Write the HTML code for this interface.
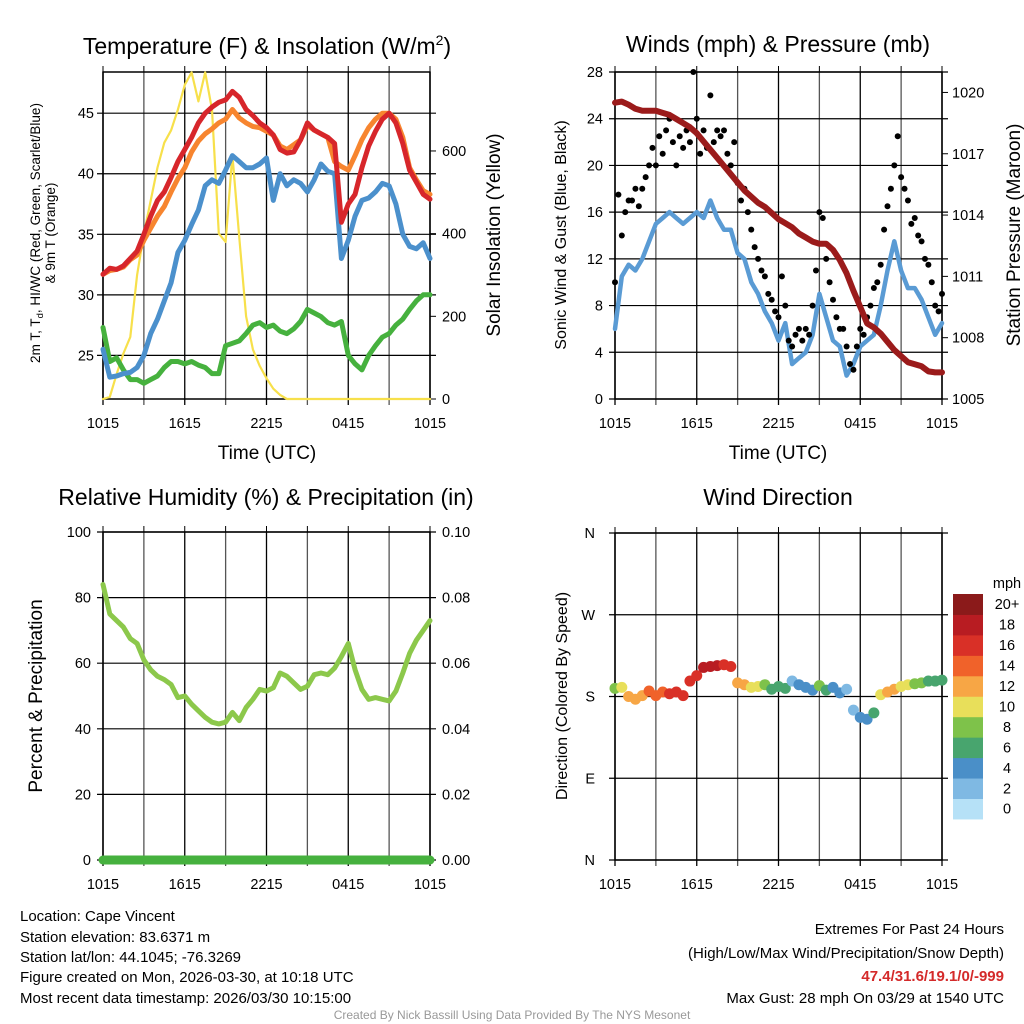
<!DOCTYPE html>
<html><head><meta charset="utf-8"><style>
body{margin:0;background:#fff;}
svg{display:block;font-family:"Liberation Sans",Arial,sans-serif;}
</style></head><body>
<svg id="s" width="1024" height="1024" viewBox="0 0 1024 1024" xmlns="http://www.w3.org/2000/svg">
<text x="267" y="54" font-size="23" text-anchor="middle">Temperature (F) &amp; Insolation (W/m<tspan font-size="14" dy="-9">2</tspan><tspan dy="9">)</tspan></text>
<text x="778" y="52" font-size="23" text-anchor="middle">Winds (mph) &amp; Pressure (mb)</text>
<text x="266" y="505" font-size="23" text-anchor="middle">Relative Humidity (%) &amp; Precipitation (in)</text>
<text x="778" y="505" font-size="23" text-anchor="middle">Wind Direction</text>
<text x="267" y="459" font-size="19" text-anchor="middle">Time (UTC)</text>
<text x="778" y="459" font-size="19" text-anchor="middle">Time (UTC)</text>
<text transform="translate(40,233) rotate(-90)" font-size="13.5" text-anchor="middle">2m T, T<tspan font-size="9.5" dy="3">d</tspan><tspan dy="-3">, HI/WC (Red, Green, Scarlet/Blue)</tspan></text>
<text transform="translate(55,233) rotate(-90)" font-size="13.5" text-anchor="middle">&amp; 9m T (Orange)</text>
<text transform="translate(500,235) rotate(-90)" font-size="19" text-anchor="middle">Solar Insolation (Yellow)</text>
<text transform="translate(566,235) rotate(-90)" font-size="16" text-anchor="middle">Sonic Wind &amp; Gust (Blue, Black)</text>
<text transform="translate(1020,235) rotate(-90)" font-size="19" text-anchor="middle">Station Pressure (Maroon)</text>
<text transform="translate(42,696) rotate(-90)" font-size="19" text-anchor="middle">Percent &amp; Precipitation</text>
<text transform="translate(567,696) rotate(-90)" font-size="16" text-anchor="middle">Direction (Colored By Speed)</text>
<g font-size="15">
<text x="20" y="921">Location: Cape Vincent</text>
<text x="20" y="942">Station elevation: 83.6371 m</text>
<text x="20" y="962">Station lat/lon: 44.1045; -76.3269</text>
<text x="20" y="982">Figure created on Mon, 2026-03-30, at 10:18 UTC</text>
<text x="20" y="1003">Most recent data timestamp: 2026/03/30 10:15:00</text>
</g>
<g font-size="15" text-anchor="end">
<text x="1004" y="934">Extremes For Past 24 Hours</text>
<text x="1004" y="958">(High/Low/Max Wind/Precipitation/Snow Depth)</text>
<text x="1004" y="981" fill="#d42a2a" font-weight="bold">47.4/31.6/19.1/0/-999</text>
<text x="1004" y="1003">Max Gust: 28 mph On 03/29 at 1540 UTC</text>
</g>
<text x="512" y="1019" font-size="12" fill="#999" text-anchor="middle">Created By Nick Bassill Using Data Provided By The NYS Mesonet</text>
<g id="g"></g>
</svg>
<script>
// ---- data (30-min steps from 1015 UTC to 1015 UTC) ----
const timeLabels=["1015","1615","2215","0415","1015"];
const temp2m=[31.7,32.2,32.1,32.4,33,33.6,35,36.5,37.8,38.5,39.7,41,42,43,44.2,45,45.5,45.9,46.1,46.8,46.3,45.3,44.8,44.2,43.8,43.2,42,41.7,41.8,42.8,44.2,43.6,43.3,43,42.5,36,37.5,38.3,40.5,42.3,43.5,44.5,45,44.2,42.5,40.3,39.3,38.3,37.9];
const temp9m=[31.7,32,32.1,32.3,32.9,33.3,34.5,35.5,36.5,37.3,38.5,39.6,40.5,41.8,42.7,43.3,43.7,44.2,44.5,45.3,44.6,44.2,43.9,43.8,43.5,43.2,42.3,42,42.4,42.8,44,43.6,43.3,43,41,40.6,40.3,41.5,42.8,43.8,44.5,45,45,44.5,43,40.5,39.5,38.6,38.3];
const windChill=[25.5,23.2,23.3,23.5,23.6,24,25,26.8,28,29.5,31,33.5,34.5,35.8,37,39,39.5,39.2,40.3,41.5,41,40.5,40.5,40.8,41.3,37.8,40,39,39.5,39.2,38.5,39.5,40.8,40.2,40,33,34.5,36.5,37.8,38,38.5,39.2,39,37.5,35,34,33.8,34.3,33];
const dewpoint=[27.3,24.5,24.8,23.8,23,23,22.7,23,23.3,24,24.5,24.5,24.3,24.5,24.2,24,23.5,23.5,25.8,26,26.2,26.8,27.5,27.7,27.3,27.5,27,26.8,27.2,27.8,28.8,28.5,28.2,27.7,27.5,27.8,25,24.3,23.8,25,25.8,26.5,26.8,27.5,28,28.8,29.5,30,30];
const solar=[0,5,60,110,150,300,400,480,560,620,650,700,760,790,720,790,700,400,380,590,390,200,120,80,50,25,10,0,0,0,0,0,0,0,0,0,0,0,0,0,0,0,0,0,0,0,0,0,0];
const tempTicks=[25,30,35,40,45];
const solarTicks=[0,200,400,600];
const wind=[6,10.5,11.5,11,12,13.5,15,15.5,16,15.5,15,15.5,16,15.5,17,15.5,14.5,14.5,12.5,12,10,9,7.5,6.5,5,6.5,3,3.5,4,5.5,9,7,5,4.5,2,3,4.5,5,5.5,8,11,13.5,11,9.5,9.5,8.5,7,5.5,6.5];
// gusts every 15 min
const gust=[10,17.5,14,16,17,17,18,16.5,18,19,20,21.5,20,22.5,21,23,24,22,20,22.5,21.5,23,22,28,24,21,23,21.5,26,22,23,22.5,23,21,20,22,18.5,17,18,16,14.5,13,12,11,10.5,9,8.5,7.5,7,10.5,8,5,4.5,5.5,6,5,6,5.5,8,11,16,15.5,12,10,8.5,7,6,6,4.5,3,2.5,4.5,6,5.5,7,8,9.5,10,11.5,14.5,16.5,18,20,22.5,19,18,17,15,15.5,14,13.5,12,11.5,10,8,7.5,9];
const pressure=[1019.5,1019.55,1019.4,1019.2,1019.1,1019.1,1019.1,1019.0,1018.9,1018.7,1018.5,1018.3,1018.0,1017.6,1017.2,1016.8,1016.4,1016.0,1015.6,1015.2,1014.9,1014.6,1014.4,1014.1,1013.8,1013.6,1013.4,1013.1,1012.9,1012.7,1012.6,1012.6,1012.3,1011.8,1011.15,1010.3,1009.5,1008.7,1008.5,1008.2,1007.8,1007.4,1007.1,1006.8,1006.7,1006.6,1006.35,1006.3,1006.3];
const windTicks=[0,4,8,12,16,20,24,28];
const pressTicks=[1005,1008,1011,1014,1017,1020];
const rh=[84,75,73,71,67.5,66,61,58,56,55,53.5,49.5,50,47.5,45.5,43.5,42,41.5,42,45,42.5,46.5,49,52,51.5,52.5,57,56,54,52,53,56.5,57,56.5,58.5,62,66,58,52,49,49.5,49,48.5,51.5,57,63,67,70,73];
const precip=new Array(49).fill(0);
const rhTicks=[0,20,40,60,80,100];
const precipTicks=["0.00","0.02","0.04","0.06","0.08","0.10"];
const direction=[189,190,180,177,181,186,181,185,183,185,181,197,203,212,213,214,215,213,195,193,190,191,193,188,191,189,197,193,190,187,192,187,190,184,188,165,157,155,162,182,185,188,191,193,194,195,197,197,198];
const dirSpeed=[9,10,12,12,13,14,15,15,16,16,16,17,17,18,19,18,17,16,13,12,11,10,9,7,6,7,3,4,4,5,9,6,5,4,2,3,4,5,7,10,12,13,11,10,9,8,7,6,6];
const dirLabels=["N","E","S","W","N"];
const speedBins=["0","2","4","6","8","10","12","14","16","18","20+"];
const binColors=["#b6e1f7","#7fb9e3","#4a8fc8","#48a56e","#7ec24a","#e8df5a","#f7a645","#f0622a","#d93027","#b81c22","#8b1a1a"];

const NS="http://www.w3.org/2000/svg";
const G=document.getElementById('g');
const FS=14.5;
function mk(tag,attrs,parent){const e=document.createElementNS(NS,tag);for(const k in attrs)e.setAttribute(k,attrs[k]);(parent||G).appendChild(e);return e;}
function txt(x,y,s,size,anchor,parent){const t=mk('text',{x:x,y:y,'font-size':size,'text-anchor':anchor},parent);t.textContent=s;return t;}

function panel(L,R,T,B,name){
  const g=mk('g',{});
  
  
  const xs=i=>L+i/48*(R-L);
  for(let k=0;k<=8;k++){const x=L+k/8*(R-L);
    const l=mk('line',{x1:x,x2:x,y1:T,y2:B+6,stroke:k%2?'#555':'#000','stroke-width':1.3},g);
    
    mk('line',{x1:x,x2:x,y1:T-6,y2:T,stroke:'#000','stroke-width':1},g);}
  timeLabels.forEach((s,k)=>{const t=txt(L+k/4*(R-L),B+29,s,FS,'middle',g);
    });
  mk('rect',{x:L,y:T,width:R-L,height:B-T,fill:'none',stroke:'#000','stroke-width':1.5},g);
  return {g,xs};
}
function hgrid(p,L,R,y,label,lx,anchor){mk('line',{x1:L-6,x2:R+6,y1:y,y2:y,stroke:'#000','stroke-width':1.2},p.g);
  if(label!==null){const t=txt(lx,y+5,label,FS,anchor,p.g);}}
function line(p,vals,xf,yf,color,w,name){
  let d='';vals.forEach((v,i)=>{d+=(i?'L':'M')+xf(i).toFixed(1)+','+yf(v).toFixed(1);});
  const e=mk('path',{d:d,fill:'none',stroke:color,'stroke-width':w,'stroke-linejoin':'round','stroke-linecap':'round'},p.g);
  return e;}

(function(){
  const L=103,R=430,T=72,B=399;
  const p=panel(L,R,T,B,'temperature-panel');
  const yT=v=>B-(v-21.4)/(48.4-21.4)*(B-T);
  const yS=v=>B-v/791*(B-T);
  tempTicks.forEach(v=>hgrid(p,L,R,yT(v),String(v),L-9,'end'));
  solarTicks.forEach(v=>{mk('line',{x1:R,x2:R+6,y1:yS(v),y2:yS(v),stroke:'#000'},p.g);
    const t=txt(R+12,yS(v)+5,String(v),FS,'start',p.g);});
  line(p,solar,p.xs,yS,'#f7e04b',2.2,'solar-line');
  line(p,dewpoint,p.xs,yT,'#46b13e',5,'dewpoint-line');
  line(p,windChill,p.xs,yT,'#4b90cc',5,'windchill-line');
  line(p,temp9m,p.xs,yT,'#f7852f',5,'temp-9m-line');
  line(p,temp2m,p.xs,yT,'#d7262b',5,'temp-2m-line');
})();
(function(){
  const L=615,R=942,T=72,B=399;
  const p=panel(L,R,T,B,'wind-panel');
  const yW=v=>B-v/28*(B-T);
  const yP=v=>B-(v-1005)/(1021-1005)*(B-T);
  windTicks.forEach(v=>hgrid(p,L,R,yW(v),String(v),L-12,'end'));
  pressTicks.forEach(v=>{mk('line',{x1:R,x2:R+6,y1:yP(v),y2:yP(v),stroke:'#000'},p.g);
    const t=txt(R+10,yP(v)+5,String(v),FS,'start',p.g);});
  line(p,wind,p.xs,yW,'#5a9bd4',4.5,'wind-line');
  gust.forEach((v,j)=>{const c=mk('circle',{cx:L+j/96*(R-L),cy:yW(v),r:3,fill:'#000'},p.g);
    });
  line(p,pressure,p.xs,yP,'#9b1b1b',6,'pressure-line');
})();
(function(){
  const L=103,R=430,T=532,B=860;
  const p=panel(L,R,T,B,'humidity-panel');
  const yR=v=>B-v/100*(B-T);
  rhTicks.forEach((v,k)=>{hgrid(p,L,R,yR(v),String(v),L-12,'end');
    const t=txt(R+12,yR(v)+5,precipTicks[k],FS,'start',p.g);});
  line(p,rh,p.xs,yR,'#8cc84b',5,'rh-line');
  line(p,precip,p.xs,v=>yR(v*1000),'#46b13e',9,'precip-line');
})();
(function(){
  const L=615,R=942,T=533,B=860;
  const p=panel(L,R,T,B,'direction-panel');
  const yD=v=>B-v/360*(B-T);
  dirLabels.forEach((s,k)=>hgrid(p,L,R,yD(k*90),s,L-20,'end'));
  const bin=s=>Math.min(10,Math.max(0,Math.floor(s/2)));
  direction.forEach((v,i)=>{const c=mk('circle',{cx:p.xs(i),cy:yD(v),r:5.5,fill:binColors[bin(dirSpeed[i])]},p.g);
    });
  const lg=mk('g',{});
  
  txt(1007,588,'mph',14.5,'middle',lg);
  const bh=20.45,top=594;
  speedBins.forEach((s,k)=>{const y=top+(10-k)*bh;
    const r=mk('rect',{x:953,y:y,width:30,height:bh+0.5,fill:binColors[k]},lg);
    
    const t=txt(1007,y+bh/2+5,s,14.5,'middle',lg);});
})();
</script>
</body></html>
